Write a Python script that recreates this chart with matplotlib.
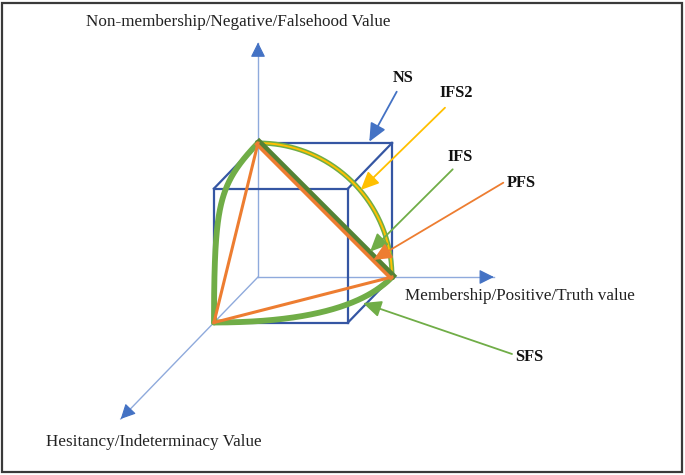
import numpy as np
import matplotlib
matplotlib.use("Agg")
import matplotlib.pyplot as plt
from matplotlib.patches import FancyArrowPatch, Rectangle
from matplotlib.transforms import offset_copy

# ---------------- data (diagram geometry in unit-cube coordinates) ----------------
axis_labels = ["Membership/Positive/Truth value",
               "Non-membership/Negative/Falsehood Value",
               "Hesitancy/Indeterminacy Value"]
axis_lengths = [1.76, 1.75, 3.12]          # how far each axis runs, in cube units
# corner points (membership, non-membership, hesitancy)
pt_M = (1, 0, 0)
pt_F = (0, 1, 0)
pt_H = (0, 0, 1)
# arc weights (rational quadratic curves through a cube corner)
w_circle = np.sqrt(2) / 2
w_left = 2.0
w_bottom = 1.0
set_names = ["NS", "IFS2", "IFS", "PFS", "SFS"]

# ---------------- projection (oblique view) ----------------
O = np.array([258.0, 277.0])
E_M = np.array([134.0, 0.0])
E_F = np.array([0.0, -134.0])
E_H = np.array([-44.0, 45.5])


def proj(p):
    p = np.asarray(p, float)
    return O + p[..., 0:1] * E_M + p[..., 1:2] * E_F + p[..., 2:3] * E_H if p.ndim > 1 else O + p[0] * E_M + p[1] * E_F + p[2] * E_H


def rq_curve(p0, c, p2, w, n=200):
    t = np.linspace(0, 1, n)[:, None]
    p0, c, p2 = map(lambda a: np.asarray(a, float), (p0, c, p2))
    num = (1 - t) ** 2 * p0 + 2 * t * (1 - t) * w * c + t ** 2 * p2
    den = (1 - t) ** 2 + 2 * t * (1 - t) * w + t ** 2
    pts = num / den
    return np.array([proj(q) for q in pts])


fig = plt.figure(figsize=(6.85, 4.75), dpi=100)
ax = fig.add_axes([0, 0, 1, 1])
ax.set_xlim(0, 685)
ax.set_ylim(475, 0)
ax.axis("off")

# frame
ax.add_patch(Rectangle((2.5, 2.5), 680, 469, fill=False, ec="#3a3a3a", lw=1.6, zorder=0))

C_AXIS = "#8faadc"
C_AXHEAD = "#4472c4"
C_CUBE = "#3556a3"
C_GREEN = "#70ad47"
C_DGREEN = "#548235"
C_ORANGE = "#ed7d31"
C_YELLOW = "#ffc000"
C_NS = "#4472c4"

serif = "Liberation Serif"

# ---------------- axes ----------------
for i, L in enumerate(axis_lengths):
    v = [0, 0, 0]
    v[i] = L
    tip = proj(v)
    ax.plot([O[0], tip[0]], [O[1], tip[1]], color=C_AXIS, lw=1.0, zorder=1)
    d = (tip - O) / np.linalg.norm(tip - O)
    ax.add_patch(FancyArrowPatch(tip - d * 12, tip, arrowstyle="-|>,head_length=9,head_width=4.5",
                                 mutation_scale=1, color=C_AXHEAD, lw=0.8, shrinkA=0, shrinkB=0, zorder=2))

ax.text(238, 22, axis_labels[1], family=serif, fontsize=12.3, ha="center", va="center", color="#222")
ax.text(520, 296, axis_labels[0], family=serif, fontsize=12.3, ha="center", va="center", color="#222")
ax.text(154, 442, axis_labels[2], family=serif, fontsize=12.3, ha="center", va="center", color="#222")

# ---------------- cube (visible edges) ----------------
cube_edges = [((0, 1, 0), (1, 1, 0)), ((1, 1, 0), (1, 0, 0)),
              ((0, 1, 0), (0, 1, 1)), ((1, 1, 0), (1, 1, 1)), ((1, 0, 0), (1, 0, 1)),
              ((0, 1, 1), (1, 1, 1)), ((1, 1, 1), (1, 0, 1)), ((1, 0, 1), (0, 0, 1)), ((0, 0, 1), (0, 1, 1))]
for a, b in cube_edges:
    pa, pb = proj(a), proj(b)
    ax.plot([pa[0], pb[0]], [pa[1], pb[1]], color=C_CUBE, lw=1.6, zorder=3, solid_capstyle="projecting")

# ---------------- SFS (green sphere-octant boundary) ----------------
arc_top = rq_curve(pt_F, (1, 1, 0), pt_M, w_circle)
arc_left = rq_curve(pt_F, (0, 1, 1), pt_H, w_left)
arc_bot = rq_curve(pt_H, (1, 0, 1), pt_M, w_bottom)
ax.plot(arc_left[:, 0], arc_left[:, 1], color=C_GREEN, lw=4.2, zorder=4, solid_capstyle="round")
ax.plot(arc_bot[:, 0], arc_bot[:, 1], color=C_GREEN, lw=4.2, zorder=4, solid_capstyle="round")
ax.plot(arc_top[:, 0], arc_top[:, 1], color=C_GREEN, lw=3.6, zorder=4)
# IFS2 (yellow circle arc)
ax.plot(arc_top[:, 0], arc_top[:, 1], color=C_YELLOW, lw=1.4, zorder=5)

# IFS (straight line F-M) dark green, PFS orange triangle
pF, pM, pH = proj(pt_F), proj(pt_M), proj(pt_H)
ax.plot([pF[0], pM[0]], [pF[1], pM[1]], color=C_DGREEN, lw=4.2, zorder=6,
        transform=offset_copy(ax.transData, fig=fig, x=0.8, y=0.8, units="points"))
ax.plot([pF[0], pM[0]], [pF[1], pM[1]], color=C_ORANGE, lw=2.6, zorder=7,
        transform=offset_copy(ax.transData, fig=fig, x=-0.9, y=-0.9, units="points"))
ax.plot([pF[0], pH[0]], [pF[1], pH[1]], color=C_ORANGE, lw=2.2, zorder=7)
ax.plot([pH[0], pM[0]], [pH[1], pM[1]], color=C_ORANGE, lw=2.2, zorder=7)

# ---------------- annotations ----------------
ann_text_pos = [(403.5, 78), (456.5, 93), (460.5, 157), (521, 183), (529.5, 357)]
ann_line_start = [(396.7, 91.7), (445, 107.7), (452.7, 169.3), (503.3, 182.7), (512, 354)]
ann_tip = [(369.3, 141.7), (360.7, 190), (370, 251.7), (373.3, 260), (363, 303)]
ann_colors = [C_NS, C_YELLOW, C_GREEN, C_ORANGE, C_GREEN]
for name, tp, s, e, c in zip(set_names, ann_text_pos, ann_line_start, ann_tip, ann_colors):
    ax.text(tp[0], tp[1], name, family=serif, fontsize=11.8, fontweight="bold",
            ha="center", va="center", color="#111")
    ax.add_patch(FancyArrowPatch(s, e, arrowstyle="-|>,head_length=11,head_width=5",
                                 mutation_scale=1, color=c, lw=1.3, shrinkA=0, shrinkB=0, zorder=8))

fig.savefig("out.png", dpi=100)
